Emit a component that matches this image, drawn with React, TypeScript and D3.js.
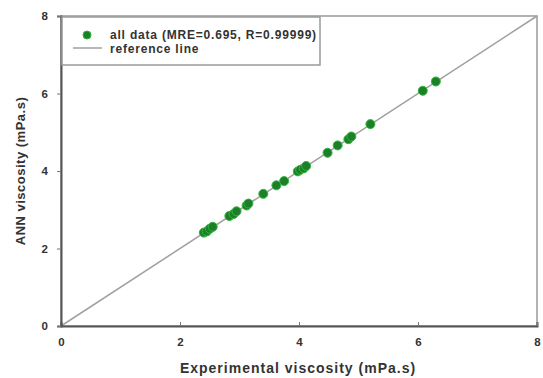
import React, { useRef, useEffect } from 'react';
import * as d3 from 'd3';

// experimental vs ANN viscosity (mPa.s)
const experimental = [2.40, 2.45, 2.50, 2.55, 2.83, 2.90, 2.95, 3.12, 3.15, 3.40, 3.62, 3.75, 3.98, 4.02, 4.08, 4.12, 4.48, 4.65, 4.83, 4.88, 5.20, 6.08, 6.30];
const predicted = [2.41, 2.44, 2.51, 2.56, 2.84, 2.89, 2.96, 3.11, 3.16, 3.41, 3.63, 3.74, 3.99, 4.03, 4.07, 4.13, 4.47, 4.66, 4.82, 4.89, 5.21, 6.07, 6.31];
const refLine = [0, 8];
const ticks = [0, 2, 4, 6, 8];
const legendLabels = ['all data (MRE=0.695, R=0.99999)', 'reference line'];

const W = 543;
const H = 378;

const App = () => {
  const svgRef = useRef<SVGSVGElement>(null);

  useEffect(() => {
    const svg = d3.select(svgRef.current);
    svg.selectAll('*').remove();
    const margin = { top: 16, right: 6, bottom: 52, left: 61 };
    const iw = W - margin.left - margin.right;
    const ih = H - margin.top - margin.bottom;

    const x = d3.scaleLinear().domain([0, 8]).range([0, iw]);
    const y = d3.scaleLinear().domain([0, 8]).range([ih, 0]);

    const g = svg.append('g').attr('transform', `translate(${margin.left},${margin.top})`);

    // frame
    g.append('rect')
      .attr('width', iw).attr('height', ih)
      .attr('fill', 'none').attr('stroke', '#9a9a9a').attr('stroke-width', 1.5);

    // reference line
    g.append('line')
      .attr('x1', x(refLine[0])).attr('y1', y(refLine[0]))
      .attr('x2', x(refLine[1])).attr('y2', y(refLine[1]))
      .attr('stroke', '#a0a0a0').attr('stroke-width', 1.5);

    // data
    g.selectAll('circle.pt')
      .data(experimental)
      .join('circle')
      .attr('class', 'pt')
      .attr('cx', d => x(d))
      .attr('cy', (d, i) => y(predicted[i]))
      .attr('r', 4.5)
      .attr('fill', '#1d7f2a')
      .attr('stroke', '#2fb83a')
      .attr('stroke-width', 1);

    const font = 'Arial, "Liberation Sans", sans-serif';

    const xAxis = g.append('g')
      .attr('transform', `translate(0,${ih})`)
      .call(d3.axisBottom(x).tickValues(ticks).tickFormat(d3.format('d')).tickSize(-4).tickPadding(12));
    const yAxis = g.append('g')
      .call(d3.axisLeft(y).tickValues(ticks).tickFormat(d3.format('d')).tickSize(4).tickPadding(9));

    [xAxis, yAxis].forEach(a => {
      a.select('.domain').attr('stroke', '#555').attr('stroke-width', 2);
      a.selectAll('.tick line').attr('stroke', '#777');
      a.selectAll('.tick text')
        .attr('fill', '#333').attr('font-size', 11.5).attr('font-weight', 'bold').attr('font-family', font);
    });

    // axis titles
    svg.append('text')
      .attr('x', margin.left + iw / 2 - 1).attr('y', 373)
      .attr('text-anchor', 'middle')
      .attr('font-family', font).attr('font-size', 14).attr('font-weight', 'bold').attr('fill', '#333')
      .attr('letter-spacing', 1)
      .text('Experimental viscosity (mPa.s)');
    svg.append('text')
      .attr('transform', `translate(25,${margin.top + ih / 2}) rotate(-90)`)
      .attr('text-anchor', 'middle')
      .attr('font-family', font).attr('font-size', 13).attr('font-weight', 'bold').attr('fill', '#333')
      .attr('letter-spacing', 0.5)
      .text('ANN viscosity (mPa.s)');

    // legend
    const lg = g.append('g');
    lg.append('rect')
      .attr('x', 1).attr('y', 1).attr('width', 258).attr('height', 48)
      .attr('fill', 'white').attr('stroke', '#9a9a9a').attr('stroke-width', 1.5);
    lg.append('circle')
      .attr('cx', 26).attr('cy', 19).attr('r', 4)
      .attr('fill', '#1d7f2a').attr('stroke', '#2fb83a');
    lg.append('line')
      .attr('x1', 12).attr('x2', 41).attr('y1', 32).attr('y2', 32)
      .attr('stroke', '#a0a0a0').attr('stroke-width', 1.5);
    lg.selectAll('text.lab')
      .data(legendLabels)
      .join('text')
      .attr('class', 'lab')
      .attr('x', 49)
      .attr('y', (d, i) => 23 + i * 14)
      .attr('font-family', font).attr('font-size', 12).attr('font-weight', 'bold').attr('fill', '#333')
      .attr('letter-spacing', 0.8)
      .text(d => d);
  }, []);

  return (
    <svg ref={svgRef} width={W} height={H} style={{ position: 'absolute', left: 0, top: 0, background: 'white' }} />
  );
};

export default App;
